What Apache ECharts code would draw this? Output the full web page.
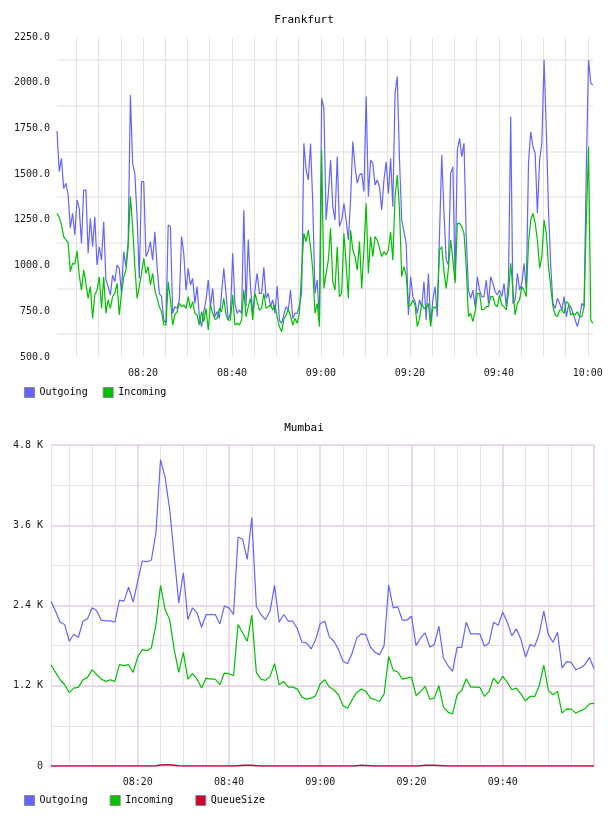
<!DOCTYPE html>
<html><head><meta charset="utf-8">
<script src="https://cdn.jsdelivr.net/npm/echarts@6/dist/echarts.min.js"></script>
<style>html,body{margin:0;padding:0;background:#fff}#c{width:608px;height:816px}</style>
</head><body><div id="c"></div>
<script>
// ---------- Frankfurt (30 s samples, from 08:00:40) ----------
const fraStartMin = 40 / 60;      // minutes after 08:00
const fraStepMin = 0.5;
const fraOutgoing = [
1736,1514,1586,1422,1450,1386,1204,1286,1167,1359,
1313,1122,1413,1413,1067,1258,1103,1267,1003,1103,
1030,1240,921,885,839,948,912,1003,985,848,
1076,994,1131,1933,1559,1504,1267,930,1459,1459,
1049,1076,1131,1030,1185,994,848,830,702,684,
1222,1213,739,775,766,812,1158,1067,866,985,
894,930,793,885,720,666,748,812,921,775,
875,720,748,711,848,985,848,702,739,1067,
793,739,757,739,1304,775,1143,885,739,866,
957,848,848,990,821,848,775,812,739,888,
702,684,730,775,757,866,711,739,739,784,
848,1668,1523,1468,1668,1340,848,921,702,1915,
1860,1249,1395,1577,1322,1249,1596,1213,1249,1340,
1249,1140,1359,1678,1541,1450,1495,1504,1404,1924,
1377,1577,1559,1441,1468,1431,1304,1468,1568,1395,
1586,1322,1942,2033,1577,1249,1185,1122,730,939,
830,803,739,812,775,912,702,957,684,812,
885,720,1176,1605,1286,1030,1003,1504,1540,921,
1632,1696,1596,1669,1158,866,821,866,775,939,
866,830,830,921,793,939,903,857,839,866,
830,903,775,921,1814,793,812,958,866,903,
1012,866,1559,1732,1650,1614,1286,1577,1669,2124,
1741,1304,994,793,766,821,793,757,830,720,
784,775,739,702,666,720,793,775,1541,2124,1997,1987
];
const fraIncoming = [
1286,1264,1222,1158,1140,1125,967,1012,1007,1081,
948,866,976,903,821,885,711,839,866,939,
766,939,739,812,766,830,848,903,730,848,
939,976,1103,1377,1213,994,821,885,957,1040,
957,994,894,957,866,821,775,748,675,675,
912,812,675,730,748,793,775,784,766,830,
766,803,739,730,675,748,693,766,648,784,
739,706,711,766,748,821,730,702,702,839,
675,684,675,702,866,720,775,821,702,848,
803,757,766,848,766,775,784,757,784,720,
666,639,706,730,761,724,675,711,684,739,
976,1176,1131,1194,1103,976,739,793,666,1632,
875,957,1030,1204,912,866,1103,830,848,1176,
1012,821,1194,1085,1049,976,1131,875,1085,1340,
957,1158,1049,1158,1140,1094,1049,1076,1058,1085,
1185,1030,1377,1495,1304,939,994,948,775,784,
812,784,666,711,793,766,766,793,666,775,
766,784,1085,1103,967,875,985,1140,1030,903,
1231,1231,1213,1176,994,721,739,693,748,848,
848,757,761,775,775,830,830,784,775,839,
784,775,757,848,1012,866,730,793,812,885,
866,830,1122,1249,1286,1231,1140,985,1049,1249,
1176,994,885,775,730,721,757,757,739,803,
793,730,739,730,748,721,721,775,1249,1650,700,684
];
const fraYLabels = [500,750,1000,1250,1500,1750,2000,2250];
const fraYGrid = [625,875,1125,1375,1625,1875,2125];
const fraXGrid = [5,10,15,20,25,30,35,40,45,50,55,60,65,70,75,80,85,90,95,100,105,110,115,120];
const fraXLabels = [20,40,60,80,100,120];

// ---------- Mumbai (1 min samples, from 08:01) ----------
const mumStartMin = 1;
const mumStepMin = 1;
const mumOutgoing = [
2465,2315,2150,2115,1865,1970,1925,2165,2200,2365,
2325,2180,2170,2170,2150,2480,2465,2675,2450,2765,
3065,3055,3080,3490,4580,4315,3840,3140,2440,2890,
2190,2365,2290,2075,2265,2265,2265,2125,2390,2365,
2265,3425,3390,3090,3715,2390,2265,2190,2315,2700,
2150,2265,2165,2165,2050,
1850,1840,1750,1890,2130,2165,1930,1865,1740,1565,
1530,1690,1915,1975,1965,1780,1700,1665,1800,2705,
2365,2380,2180,2180,2240,1800,1915,1990,1780,1815,
2090,1615,1500,1415,1775,1775,2150,1975,1975,1975,
1790,1840,2150,2105,2300,2150,1950,2050,1890,1630,
1815,1790,1980,2315,1965,1850,2000,1465,1560,1550,
1440,1465,1515,1625,1455
];
const mumIncoming = [
1515,1400,1290,1215,1100,1165,1175,1290,1325,1440,
1365,1300,1265,1290,1265,1515,1500,1515,1400,1630,
1740,1725,1765,2115,2700,2340,2190,1740,1400,1700,
1300,1380,1300,1165,1315,1300,1300,1215,1390,1380,
1350,2115,1990,1865,2255,1400,1300,1280,1340,1530,
1215,1265,1180,1180,1150,
1030,1000,1015,1050,1230,1290,1180,1140,1065,900,
865,990,1100,1150,1115,1015,990,965,1075,1640,
1430,1405,1300,1315,1330,1055,1115,1190,1000,1015,
1200,880,805,780,1065,1130,1305,1180,1180,1175,
1040,1115,1315,1230,1340,1250,1140,1165,1075,975,
1040,1040,1200,1510,1130,1065,1115,790,855,850,
790,825,855,930,935
];
const mumQueue = [
0,0,0,0,0,0,0,0,0,0,
0,0,0,0,0,0,0,0,0,0,
0,0,0,5,15,20,18,12,5,0,
0,0,0,0,0,0,0,0,0,0,
0,5,10,12,10,5,0,0,0,0,
0,0,0,0,0,0,0,0,0,0,
0,0,0,0,0,0,0,5,10,8,
5,0,0,0,0,0,0,0,0,0,
0,5,10,12,10,8,5,0,0,0,
0,0,0,0,0,0,0,0,0,0,
0,0,0,0,0,0,0,0,0,0,
0,0,0,0,0,0,0,0,0,0
];
const mumYMajor = 1200, mumYMinor = 600, mumYMax = 4800;
const mumXMinor = [1,5,10,15,25,30,35,45,50,55,65,70,75,85,90,95,105,110,115];
const mumXMajor = [20,40,60,80,100,120];
const mumXLabels = [20,40,60,80,100];

// ---------- helpers ----------
function pairs(start, step, arr) { return arr.map((v, i) => [start + i * step, v]); }
function hhmm(m) {
  const tot = Math.round(m);
  const h = 8 + Math.floor(tot / 60), mm = tot % 60;
  return (h < 10 ? '0' : '') + h + ':' + (mm < 10 ? '0' : '') + mm;
}
const MONO = 'DejaVu Sans Mono';
const lblStyle = { fontFamily: MONO, fontSize: 10, color: '#1a1a1a' };
const fraT0 = fraStartMin, fraT1 = fraStartMin + (fraOutgoing.length - 1) * fraStepMin;
const mumT0 = mumStartMin, mumT1 = mumStartMin + (mumOutgoing.length - 1) * mumStepMin;

const BLUE = '#6464ff', GREEN = '#00c000', RED = '#cc0033';

const chart = echarts.init(document.getElementById('c'), null, { renderer: 'canvas' });
chart.setOption({
  animation: false,
  backgroundColor: '#fff',
  title: [
    { text: 'Frankfurt', left: 'center', top: 15, padding: 0,
      textStyle: { fontFamily: MONO, fontSize: 11, fontWeight: 'normal', color: '#000' } },
    { text: 'Mumbai', left: 'center', top: 423, padding: 0,
      textStyle: { fontFamily: MONO, fontSize: 11, fontWeight: 'normal', color: '#000' } }
  ],
  legend: [
    { data: ['Outgoing', 'Incoming'], left: 24, top: 387, padding: 0, icon: 'rect',
      itemWidth: 10, itemHeight: 10, itemGap: 15,
      itemStyle: { borderColor: '#888', borderWidth: 1 },
      textStyle: { fontFamily: MONO, fontSize: 10, color: '#000' } },
    { data: ['Outgoing', 'Incoming', 'QueueSize'], left: 24, top: 795, padding: 0, icon: 'rect',
      itemWidth: 10, itemHeight: 10, itemGap: 22,
      itemStyle: { borderColor: '#888', borderWidth: 1 },
      textStyle: { fontFamily: MONO, fontSize: 10, color: '#000' } }
  ],
  grid: [
    { left: 57, right: 15, top: 37, height: 320 },
    { left: 51, right: 14, top: 445, height: 321 }
  ],
  xAxis: [
    { type: 'value', gridIndex: 0, min: fraT0, max: fraT1,
      axisLine: { show: false },
      axisTick: { show: false, customValues: fraXGrid },
      splitLine: { show: true, lineStyle: { color: '#e4e4e4', width: 1 } },
      axisLabel: { customValues: fraXLabels, formatter: v => hhmm(v), margin: 11, ...lblStyle } },
    { type: 'value', gridIndex: 1, min: mumT0, max: mumT1, position: 'top',
      axisLine: { show: false },
      axisTick: { show: false, customValues: mumXMinor },
      splitLine: { show: true, lineStyle: { color: '#e8e2ea', width: 1 } },
      axisLabel: { show: false } },
    { type: 'value', gridIndex: 1, min: mumT0, max: mumT1, position: 'bottom',
      axisLine: { show: false },
      axisTick: { show: false, customValues: mumXMajor },
      splitLine: { show: true, lineStyle: { color: '#e2cce4', width: 1.5 } },
      axisLabel: { customValues: mumXLabels, formatter: v => hhmm(v), margin: 11, ...lblStyle } }
  ],
  yAxis: [
    { type: 'value', gridIndex: 0, min: 500, max: 2250,
      axisLine: { show: false },
      axisTick: { show: false, customValues: fraYGrid },
      splitLine: { show: true, lineStyle: { color: '#efefef', width: 2 } },
      axisLabel: { customValues: fraYLabels, formatter: v => v.toFixed(1), margin: 7, ...lblStyle } },
    { type: 'value', gridIndex: 1, min: 0, max: mumYMax, interval: mumYMinor, position: 'right',
      axisLine: { show: false }, axisTick: { show: false },
      splitLine: { show: true, lineStyle: { color: '#e8e2ea', width: 1 } },
      axisLabel: { show: false } },
    { type: 'value', gridIndex: 1, min: 0, max: mumYMax, interval: mumYMajor, position: 'left',
      axisLine: { show: false }, axisTick: { show: false },
      splitLine: { show: true, lineStyle: { color: '#e6d2e8', width: 1.5 } },
      axisLabel: { formatter: v => v === 0 ? '0' : (v / 1000).toFixed(1) + ' K', margin: 8, ...lblStyle } }
  ],
  series: [
    { name: 'Outgoing', type: 'line', xAxisIndex: 0, yAxisIndex: 0, showSymbol: false, symbol: 'none',
      data: pairs(fraStartMin, fraStepMin, fraOutgoing), color: BLUE,
      lineStyle: { color: BLUE, width: 1.2 }, emphasis: { disabled: true } },
    { name: 'Incoming', type: 'line', xAxisIndex: 0, yAxisIndex: 0, showSymbol: false, symbol: 'none',
      data: pairs(fraStartMin, fraStepMin, fraIncoming), color: GREEN,
      lineStyle: { color: GREEN, width: 1.2 }, emphasis: { disabled: true } },
    { name: 'Outgoing', type: 'line', xAxisIndex: 2, yAxisIndex: 2, showSymbol: false, symbol: 'none',
      data: pairs(mumStartMin, mumStepMin, mumOutgoing), color: BLUE,
      lineStyle: { color: BLUE, width: 1.2 }, emphasis: { disabled: true } },
    { name: 'Incoming', type: 'line', xAxisIndex: 2, yAxisIndex: 2, showSymbol: false, symbol: 'none',
      data: pairs(mumStartMin, mumStepMin, mumIncoming), color: GREEN,
      lineStyle: { color: GREEN, width: 1.2 }, emphasis: { disabled: true } },
    { name: 'QueueSize', type: 'line', xAxisIndex: 2, yAxisIndex: 2, showSymbol: false, symbol: 'none',
      data: pairs(mumStartMin, mumStepMin, mumQueue), color: RED,
      lineStyle: { color: RED, width: 1.5 }, emphasis: { disabled: true } }
  ]
});
</script>
</body></html>
